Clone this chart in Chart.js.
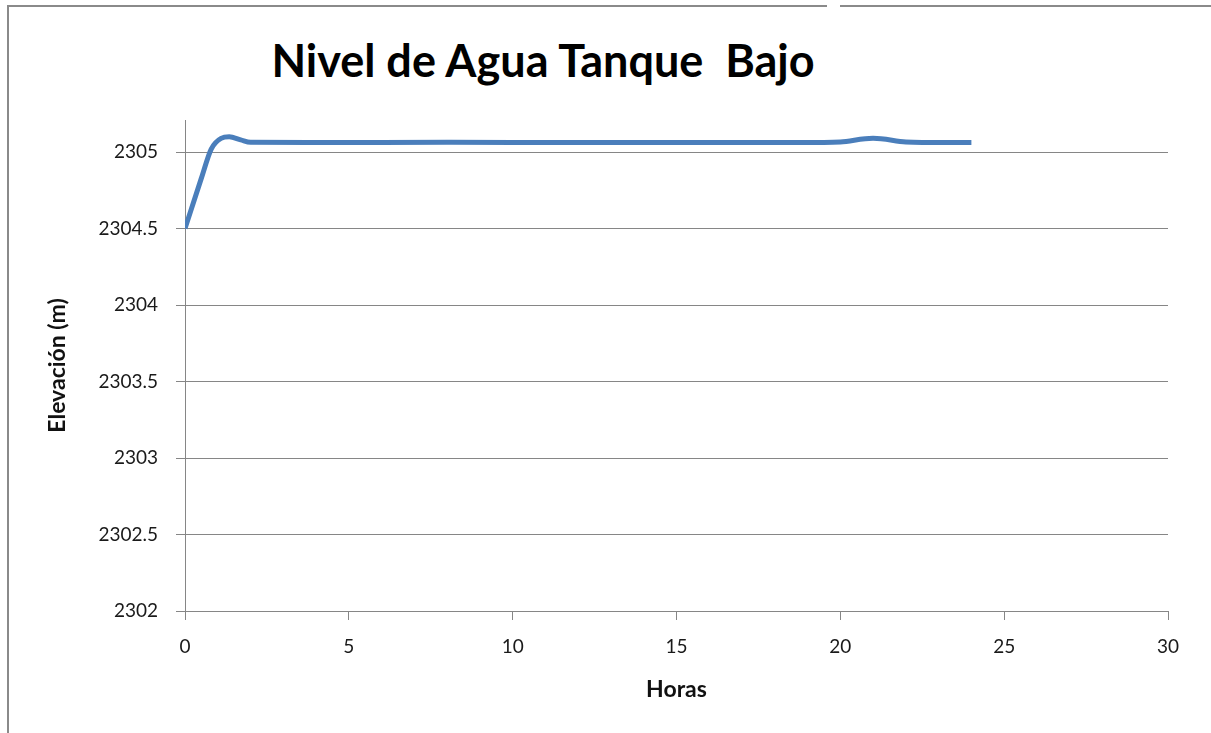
<!DOCTYPE html>
<html>
<head>
<meta charset="utf-8">
<script src="https://cdn.jsdelivr.net/npm/chart.js@4/dist/chart.umd.min.js"></script>
<style>
    html, body { margin: 0; padding: 0; background: #fff; }
    #wrap { position: relative; width: 1211px; height: 733px; overflow: hidden; }
    .frame { position: absolute; background: #8a8a8a; }
    #chart-title {
        position: absolute; left: 193px; width: 700px; top: 33px;
        text-align: center; font-family: Lato, sans-serif; font-weight: bold;
        font-size: 45px; color: #000; white-space: pre;
    }
    #level-chart { position: absolute; left: 0; top: 0; }
</style>
</head>
<body>
<div id="wrap">
    <div class="frame" style="left:7px; top:5px; width:820px; height:2px;"></div>
    <div class="frame" style="left:840px; top:5px; width:371px; height:2px;"></div>
    <div class="frame" style="left:7px; top:5px; width:2px; height:728px;"></div>
    <div id="chart-title">Nivel de Agua Tanque  Bajo</div>
    <canvas id="level-chart" width="1211" height="733"></canvas>
</div>
<script>
// Water level readings (hours vs elevation)
const hours = [0, 0.5, 0.8, 1.1, 1.35, 1.7, 2, 4, 8, 12, 16, 19.5, 20, 21, 22, 22.5, 24];
const levels = [2304.5, 2304.83, 2305.02, 2305.09, 2305.1, 2305.08, 2305.064, 2305.063, 2305.064,
    2305.063, 2305.063, 2305.063, 2305.066, 2305.09, 2305.066, 2305.063, 2305.063];
const yTicks = [2302, 2302.5, 2303, 2303.5, 2304, 2304.5, 2305];
const xTicks = [0, 5, 10, 15, 20, 25, 30];

const gridColor = '#868686';
const tickFont = { family: 'Lato', size: 19 };
const titleFont = { family: 'Lato', size: 23, weight: 'bold' };

const points = hours.map((h, i) => ({ x: h, y: levels[i] }));

const ctx = document.getElementById('level-chart').getContext('2d');
const chart = new Chart(ctx, {
    type: 'line',
    data: {
        datasets: [{
            label: 'Nivel',
            data: points,
            borderColor: '#4a7ebb',
            borderWidth: 5,
            pointRadius: 0,
            cubicInterpolationMode: 'monotone',
            fill: false
        }]
    },
    options: {
        responsive: false,
        animation: false,
        layout: { padding: { top: 120, right: 43, left: 0, bottom: 0 } },
        plugins: { legend: { display: false }, tooltip: { enabled: false } },
        scales: {
            x: {
                type: 'linear',
                min: 0,
                max: 30,
                afterBuildTicks: (axis) => { axis.ticks = xTicks.map(v => ({ value: v })); },
                afterFit: (axis) => { axis.height = 122; },
                grid: { drawOnChartArea: false, drawTicks: true, tickLength: 9, color: gridColor },
                border: { color: gridColor },
                ticks: { font: tickFont, color: '#1a1a1a', padding: 15, maxRotation: 0, callback: (v) => String(v) },
                title: { display: true, text: 'Horas', font: titleFont, color: '#111', padding: { top: 10, bottom: 30 } }
            },
            y: {
                min: 2302,
                max: 2305.21,
                afterBuildTicks: (axis) => { axis.ticks = yTicks.map(v => ({ value: v })); },
                afterFit: (axis) => { axis.width = 185; },
                grid: { color: gridColor, tickLength: 9 },
                border: { color: gridColor },
                ticks: { font: tickFont, color: '#1a1a1a', padding: 18, callback: (v) => String(v) },
                title: { display: true, text: 'Elevación (m)', font: titleFont, color: '#111', padding: { top: 44, bottom: 0 } }
            }
        }
    }
});
</script>
</body>
</html>
